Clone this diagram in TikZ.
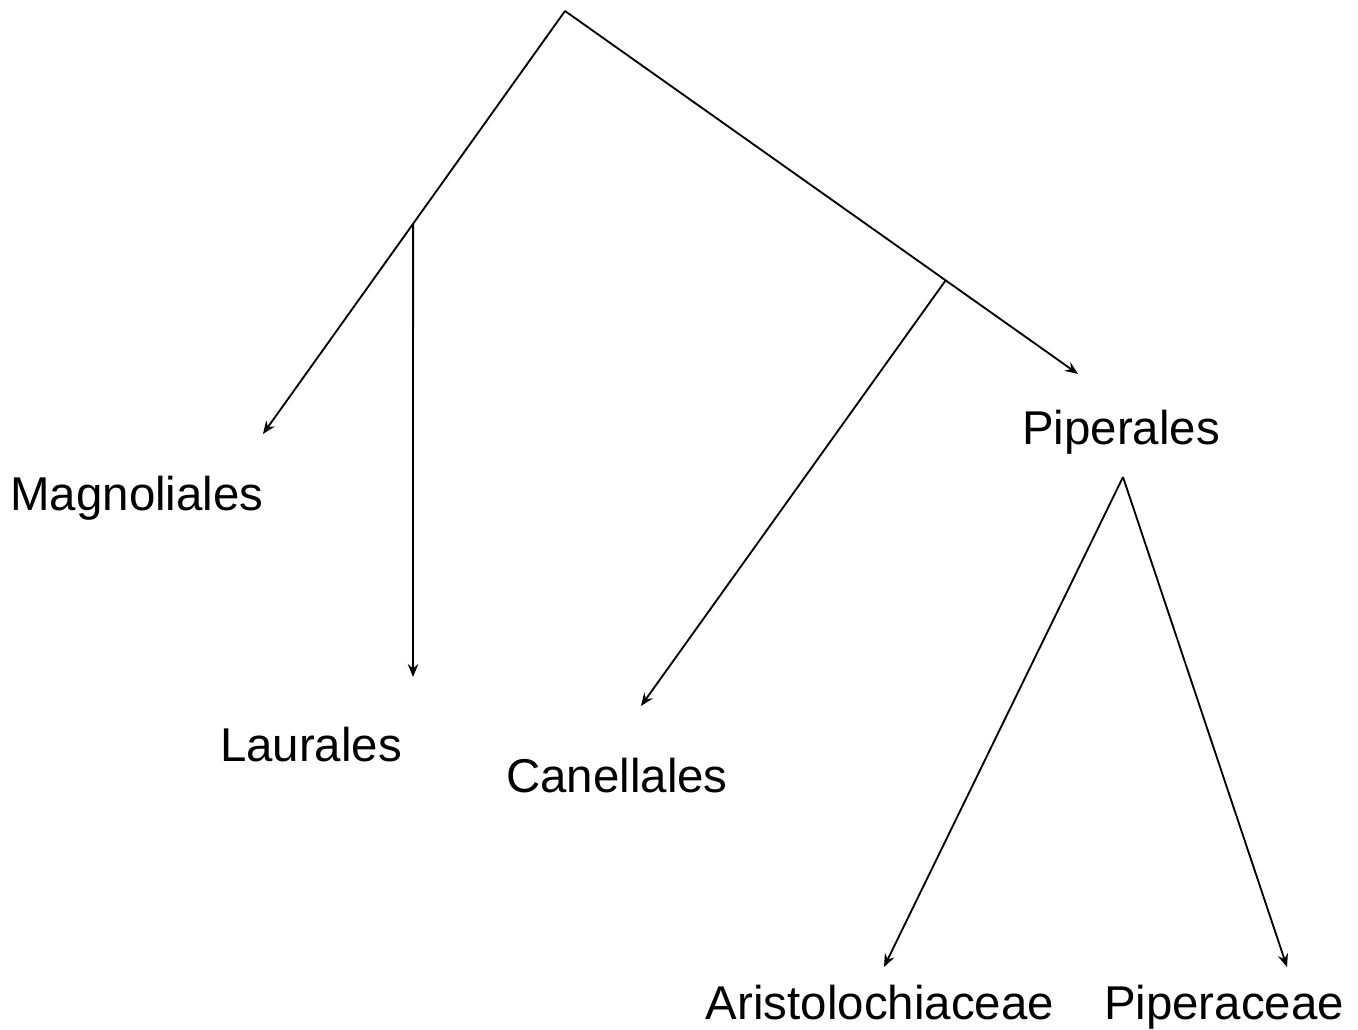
\documentclass[tikz,border=0pt]{standalone}
\usepackage{fontspec}
\setmainfont{Liberation Sans}
\usetikzlibrary{arrows.meta,calc}

\begin{document}
\begin{tikzpicture}[
    x=0.02cm, y=-0.02cm,
    lbl/.style={anchor=base, inner sep=0pt, font=\fontsize{27}{32}\selectfont},
    arr/.style={-{Stealth[length=2.6mm, width=2.1mm, inset=0.9mm]}, line width=1.05pt}
]
    \useasboundingbox (0,0) rectangle (1358,1030);
    % tree points
    \coordinate (root) at (565, 11);
    \coordinate (magtip) at (263, 434);
    \coordinate (pipertip) at (1078, 374);
    \coordinate (b1) at ($(root)!0.503!(magtip)$);
    \coordinate (b2) at ($(root)!0.742!(pipertip)$);
    \coordinate (laurtip) at (413, 677);
    \coordinate (canetip) at (641, 706);
    \coordinate (pipfork) at (1123, 477);
    \coordinate (aristip) at (884, 967);
    \coordinate (pipctip) at (1287, 967);
    % labels
    \node[lbl] (mag)   at (137, 510) {Magnoliales};
    \node[lbl] (laur)  at (311, 761) {Laurales};
    \node[lbl] (cane)  at (617, 792) {Canellales};
    \node[lbl] (piper) at (1121, 444) {Piperales};
    \node[lbl] (aris)  at (880, 1019) {Aristolochiaceae};
    \node[lbl] (pipc)  at (1224, 1019) {Piperaceae};
    % branches
    \draw[arr] (root) -- (magtip);
    \draw[arr] (root) -- (pipertip);
    \draw[arr] (b1) -- (laurtip);
    \draw[arr] (b2) -- (canetip);
    \draw[arr] (pipfork) -- (aristip);
    \draw[arr] (pipfork) -- (pipctip);
\end{tikzpicture}
\end{document}
